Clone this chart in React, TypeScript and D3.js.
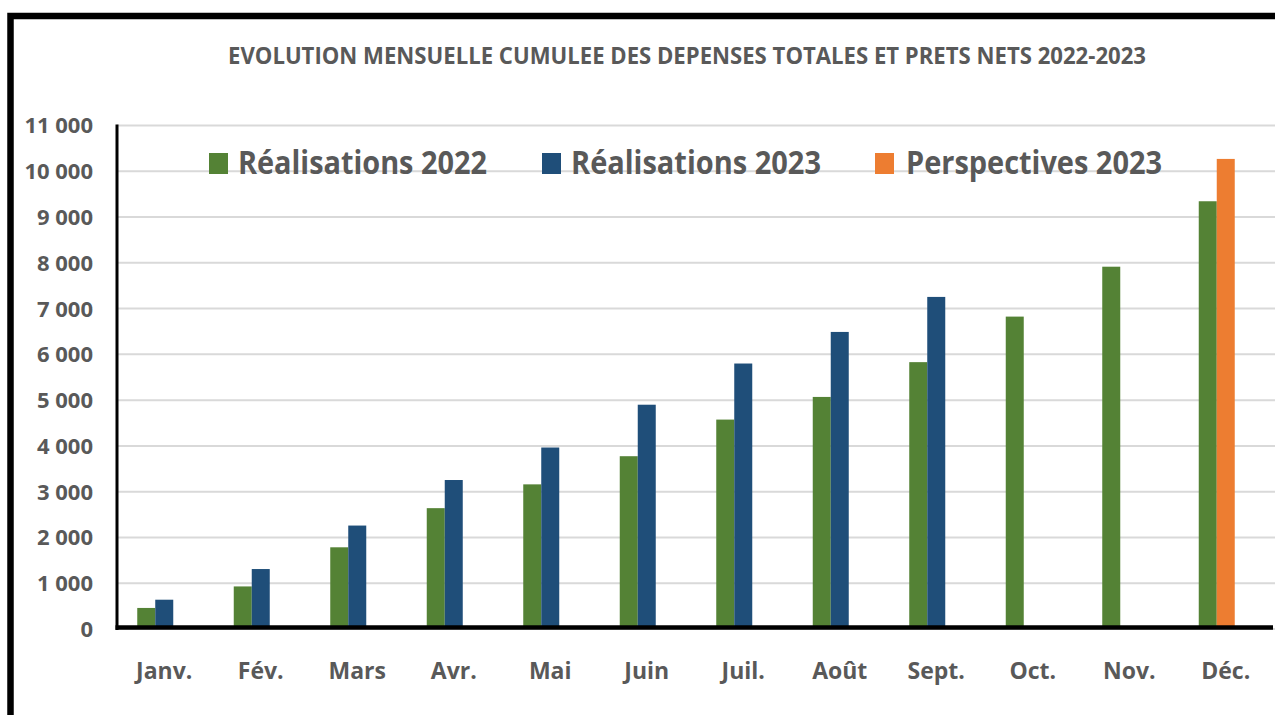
import React from "react";
import * as d3 from "d3";

// months and cumulative values
const months = ["Janv.", "Fév.", "Mars", "Avr.", "Mai", "Juin", "Juil.", "Août", "Sept.", "Oct.", "Nov.", "Déc."];
const real2022 = [460, 930, 1785, 2640, 3160, 3775, 4575, 5070, 5830, 6825, 7915, 9345];
const real2023: (number | null)[] = [640, 1310, 2260, 3255, 3965, 4900, 5800, 6490, 7255, null, null, null];
const persp2023: (number | null)[] = [null, null, null, null, null, null, null, null, null, null, null, 10270];
const yTicks = [0, 1000, 2000, 3000, 4000, 5000, 6000, 7000, 8000, 9000, 10000, 11000];

const legendItems = [
  { label: "Réalisations 2022", color: "#548235" },
  { label: "Réalisations 2023", color: "#1F4E79" },
  { label: "Perspectives 2023", color: "#ED7D31" },
];

const W = 1275;
const H = 715;
const textColor = "#595959";
const font = "'Open Sans', sans-serif";

export default function App() {
  const x = d3.scaleBand<string>().domain(months).range([116, 1274]);
  // three slots per month, like the spreadsheet: 2022 / 2023 / (empty)
  const slot = d3.scaleBand<string>().domain(["a", "b", "c"]).range([-27, 27]);
  const y = d3.scaleLinear().domain([0, 11000]).range([629, 125.5]);
  const fmt = (v: number) => d3.format(",")(v).replace(/,/g, " ");

  const bars: { key: string; m: string; v: number; s: string; color: string }[] = [];
  months.forEach((m, i) => {
    bars.push({ key: "g" + i, m, v: real2022[i], s: "a", color: legendItems[0].color });
    if (real2023[i] != null) bars.push({ key: "b" + i, m, v: real2023[i] as number, s: "b", color: legendItems[1].color });
    if (persp2023[i] != null) bars.push({ key: "o" + i, m, v: persp2023[i] as number, s: "b", color: legendItems[2].color });
  });

  const legendPos = [
    { sq: 209, tx: 238, w: 249 },
    { sq: 542, tx: 571, w: 250 },
    { sq: 875, tx: 906, w: 256 },
  ];

  return (
    <svg width={W} height={H} style={{ position: "absolute", left: 0, top: 0, background: "#fff" }}>
      <rect x={0} y={0} width={W} height={H} fill="#fff" />
      {/* frame */}
      <rect x={10.5} y={16} width={W + 20} height={H + 20} fill="none" stroke="#000" strokeWidth={6.5} />

      <text x={228} y={64} fontFamily={font} fontWeight="bold" fontSize={23} fill={textColor}
        textLength={918} lengthAdjust="spacingAndGlyphs">
        EVOLUTION MENSUELLE CUMULEE DES DEPENSES TOTALES  ET PRETS NETS 2022-2023
      </text>

      {/* gridlines */}
      {yTicks.map((t) => (
        <line key={"g" + t} x1={117} x2={W} y1={y(t)} y2={y(t)} stroke="#D9D9D9" strokeWidth={2} />
      ))}

      {/* y labels */}
      {yTicks.map((t) => (
        <text key={"l" + t} x={93} y={y(t)} dy="0.36em" textAnchor="end" fontFamily={font}
          fontWeight="bold" fontSize={22} fill={textColor}>
          {fmt(t)}
        </text>
      ))}

      {/* bars */}
      {bars.map((b) => (
        <rect key={b.key} x={(x(b.m) as number) + x.bandwidth() / 2 + (slot(b.s) as number)} y={y(b.v)}
          width={slot.bandwidth()} height={y(0) - y(b.v)} fill={b.color} />
      ))}

      {/* axes */}
      <line x1={117} x2={117} y1={124.5} y2={630} stroke="#000" strokeWidth={3} />
      <line x1={115.5} x2={1273} y1={627.5} y2={627.5} stroke="#000" strokeWidth={4.5} />

      {/* x labels */}
      {months.map((m) => (
        <text key={m} x={(x(m) as number) + x.bandwidth() / 2} y={679} textAnchor="middle" fontFamily={font}
          fontWeight="bold" fontSize={23} fill={textColor}>
          {m}
        </text>
      ))}

      {/* legend */}
      {legendItems.map((d, i) => (
        <g key={d.label}>
          <rect x={legendPos[i].sq} y={153} width={19} height={21} fill={d.color} />
          <text x={legendPos[i].tx} y={174} fontFamily={font} fontWeight="bold" fontSize={33} fill={textColor}
            textLength={legendPos[i].w} lengthAdjust="spacingAndGlyphs">
            {d.label}
          </text>
        </g>
      ))}
    </svg>
  );
}
